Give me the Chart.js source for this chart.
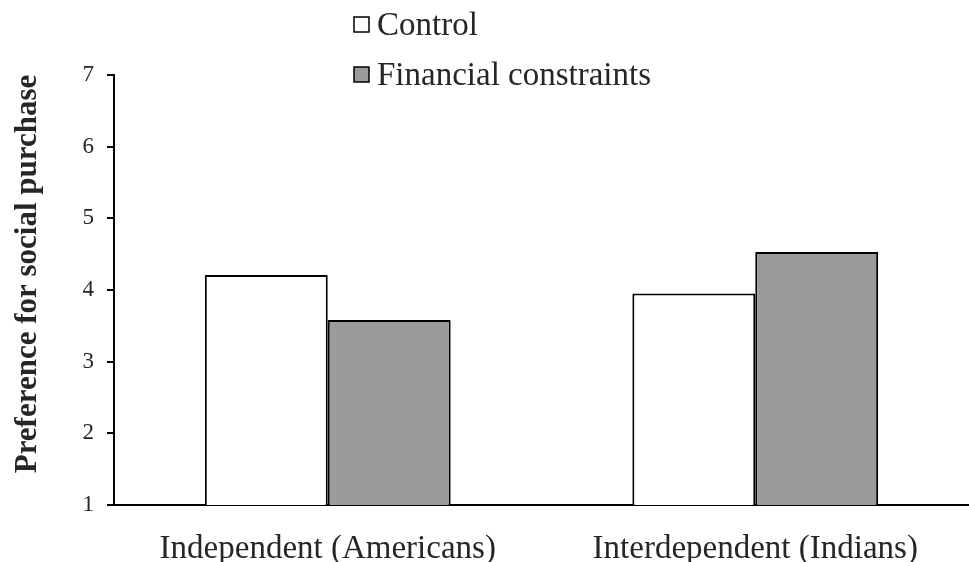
<!DOCTYPE html>
<html>
<head>
<meta charset="utf-8">
<script src="https://cdn.jsdelivr.net/npm/chart.js@4/dist/chart.umd.min.js"></script>
<style>
  html, body { margin: 0; padding: 0; background: #ffffff; }
  #wrap { width: 969px; height: 562px; position: relative; }
</style>
</head>
<body>
<div id="wrap"><canvas id="chart"></canvas></div>
<script>
// Groups and mean preference scores
const categories = ['Independent (Americans)', 'Interdependent (Indians)'];
const controlScores = [4.21, 3.95];
const constraintScores = [3.58, 4.53];
const seriesNames = ['Control', 'Financial constraints'];
const yTicks = [1, 2, 3, 4, 5, 6, 7];
const yAxisTitle = 'Preference for social purchase';

const SERIF = '"Liberation Serif", "Times New Roman", serif';
const TEXT = '#262626';

// Stacked legend drawn at the top of the canvas
const stackedLegend = {
  id: 'stackedLegend',
  afterDraw(chart) {
    const ctx = chart.ctx;
    ctx.save();
    const rows = [25, 75];
    chart.data.datasets.forEach((ds, i) => {
      const cy = rows[i];
      ctx.fillStyle = ds.backgroundColor;
      ctx.strokeStyle = '#000';
      ctx.lineWidth = 1.5;
      ctx.fillRect(354, cy - 8, 15, 15);
      ctx.strokeRect(354, cy - 8, 15, 15);
      ctx.fillStyle = TEXT;
      ctx.font = '33px ' + SERIF;
      ctx.textBaseline = 'middle';
      ctx.textAlign = 'left';
      ctx.fillText(ds.label, 377, cy + 1);
    });
    ctx.restore();
  }
};

// Rotated y-axis title, set a little above the axis midpoint
const yTitle = {
  id: 'yTitle',
  afterDraw(chart) {
    const ctx = chart.ctx;
    const area = chart.chartArea;
    ctx.save();
    ctx.translate(36, (area.top + area.bottom) / 2 - 16);
    ctx.rotate(-Math.PI / 2);
    ctx.font = 'bold 31px ' + SERIF;
    ctx.fillStyle = TEXT;
    ctx.textAlign = 'center';
    ctx.textBaseline = 'alphabetic';
    ctx.fillText(yAxisTitle, 0, 0);
    ctx.restore();
  }
};

new Chart(document.getElementById('chart'), {
  type: 'bar',
  data: {
    labels: categories,
    datasets: [
      {
        label: seriesNames[0],
        data: controlScores,
        backgroundColor: '#ffffff',
        borderColor: '#000000',
        borderWidth: 2,
        borderSkipped: false
      },
      {
        label: seriesNames[1],
        data: constraintScores,
        backgroundColor: '#9b9b9b',
        borderColor: '#000000',
        borderWidth: 2,
        borderSkipped: false
      }
    ]
  },
  options: {
    responsive: true,
    maintainAspectRatio: false,
    animation: false,
    layout: { padding: { top: 75, left: 0, right: 0, bottom: 0 } },
    datasets: { bar: { categoryPercentage: 0.575, barPercentage: 1.0 } },
    plugins: {
      legend: { display: false },
      tooltip: { enabled: false }
    },
    scales: {
      x: {
        grid: { display: false, drawTicks: false },
        border: { color: '#000', width: 2 },
        ticks: {
          color: TEXT,
          font: { family: SERIF, size: 33 },
          padding: 25,
          maxRotation: 0
        },
        afterFit(scale) { scale.height = 57; }
      },
      y: {
        min: 1,
        max: 7,
        afterBuildTicks(scale) { scale.ticks = yTicks.map(v => ({ value: v })); },
        grid: { drawOnChartArea: false, drawTicks: true, tickLength: 7, color: '#000', lineWidth: 2 },
        border: { color: '#000', width: 2 },
        ticks: {
          color: TEXT,
          font: { family: SERIF, size: 23 },
          padding: 13
        },
        afterFit(scale) { scale.width = 114; }
      }
    }
  },
  plugins: [stackedLegend, yTitle]
});
</script>
</body>
</html>
